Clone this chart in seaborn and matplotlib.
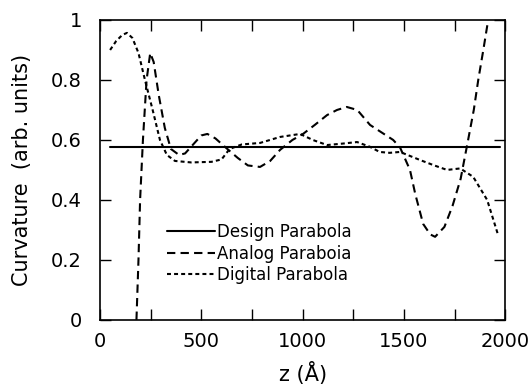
import pandas as pd
import seaborn as sns
import matplotlib.pyplot as plt
from matplotlib.ticker import MultipleLocator

# values
design_z = [50, 1975]
design_y = [0.575, 0.575]

analog_z = [180, 190, 198, 212, 230, 248, 265, 290, 320, 350, 390, 420, 460,
            500, 530, 570, 620, 680, 730, 790, 840, 889, 950, 1002, 1060,
            1121, 1170, 1218, 1270, 1333, 1390, 1447, 1481, 1530, 1556, 1595,
            1630, 1654, 1700, 1740, 1780, 1817, 1845, 1867, 1892, 1916]
analog_y = [0.0, 0.2, 0.4, 0.6, 0.8, 0.89, 0.86, 0.75, 0.64, 0.57, 0.55, 0.555,
            0.585, 0.615, 0.62, 0.605, 0.575, 0.54, 0.515, 0.51, 0.53, 0.567,
            0.60, 0.62, 0.65, 0.683, 0.70, 0.71, 0.70, 0.65, 0.625, 0.60,
            0.575, 0.50, 0.42, 0.32, 0.285, 0.277, 0.31, 0.38, 0.47, 0.60,
            0.70, 0.80, 0.90, 1.0]

digital_z = [50, 80, 110, 133, 160, 190, 222, 260, 296, 330, 370, 450, 550,
             600, 640, 700, 790, 889, 988, 1050, 1121, 1200, 1269, 1333, 1380,
             1430, 1481, 1580, 1650, 1713, 1778, 1842, 1911, 1965]
digital_y = [0.90, 0.93, 0.95, 0.957, 0.94, 0.89, 0.80, 0.70, 0.60, 0.55, 0.53,
             0.525, 0.527, 0.535, 0.57, 0.585, 0.59, 0.61, 0.62, 0.60, 0.583,
             0.588, 0.593, 0.577, 0.56, 0.557, 0.56, 0.533, 0.515, 0.50, 0.505,
             0.477, 0.40, 0.283]

labels = ["Design Parabola", "Analog Paraboia", "Digital Parabola"]

df = pd.concat([
    pd.DataFrame({"z": design_z, "c": design_y, "curve": labels[0]}),
    pd.DataFrame({"z": analog_z, "c": analog_y, "curve": labels[1]}),
    pd.DataFrame({"z": digital_z, "c": digital_y, "curve": labels[2]}),
])

sns.set_style("ticks")
plt.rcParams['font.family'] = ['DejaVu Sans']
plt.rcParams.update({"text.color": "black", "axes.labelcolor": "black",
                     "xtick.color": "black", "ytick.color": "black"})

fig = plt.figure(figsize=(5.29, 3.92), dpi=100)
ax = fig.add_axes([0.189, 0.184, 0.766, 0.765])

sns.lineplot(data=df, x="z", y="c", hue="curve", style="curve",
             palette=["black"] * 3,
             dashes={labels[0]: "", labels[1]: (4, 2.5), labels[2]: (1.9, 1.5)},
             estimator=None, sort=False, linewidth=1.5, ax=ax)

ax.set_xlim(0, 2000)
ax.set_ylim(0, 1)
ax.xaxis.set_major_locator(MultipleLocator(500))
ax.xaxis.set_minor_locator(MultipleLocator(250))
ax.yaxis.set_major_locator(MultipleLocator(0.2))
ax.yaxis.set_major_formatter(plt.FuncFormatter(lambda v, p: "%g" % round(v, 2)))
ax.tick_params(which="both", direction="in", top=True, right=True,
               length=8, width=1, labelsize=14)
ax.tick_params(axis="x", pad=9)
ax.tick_params(axis="y", pad=13)
for s in ax.spines.values():
    s.set_linewidth(1.2)
    s.set_color("black")

ax.set_xlabel("z (Å)", fontsize=15, labelpad=8)
ax.set_ylabel("Curvature  (arb. units)", fontsize=15, labelpad=14)

ax.legend(loc="upper left", bbox_to_anchor=(0.145, 0.35), frameon=False,
          fontsize=12, handlelength=2.9, handletextpad=0.1,
          labelspacing=0.2, borderpad=0)

fig.savefig("out.png", dpi=100)
